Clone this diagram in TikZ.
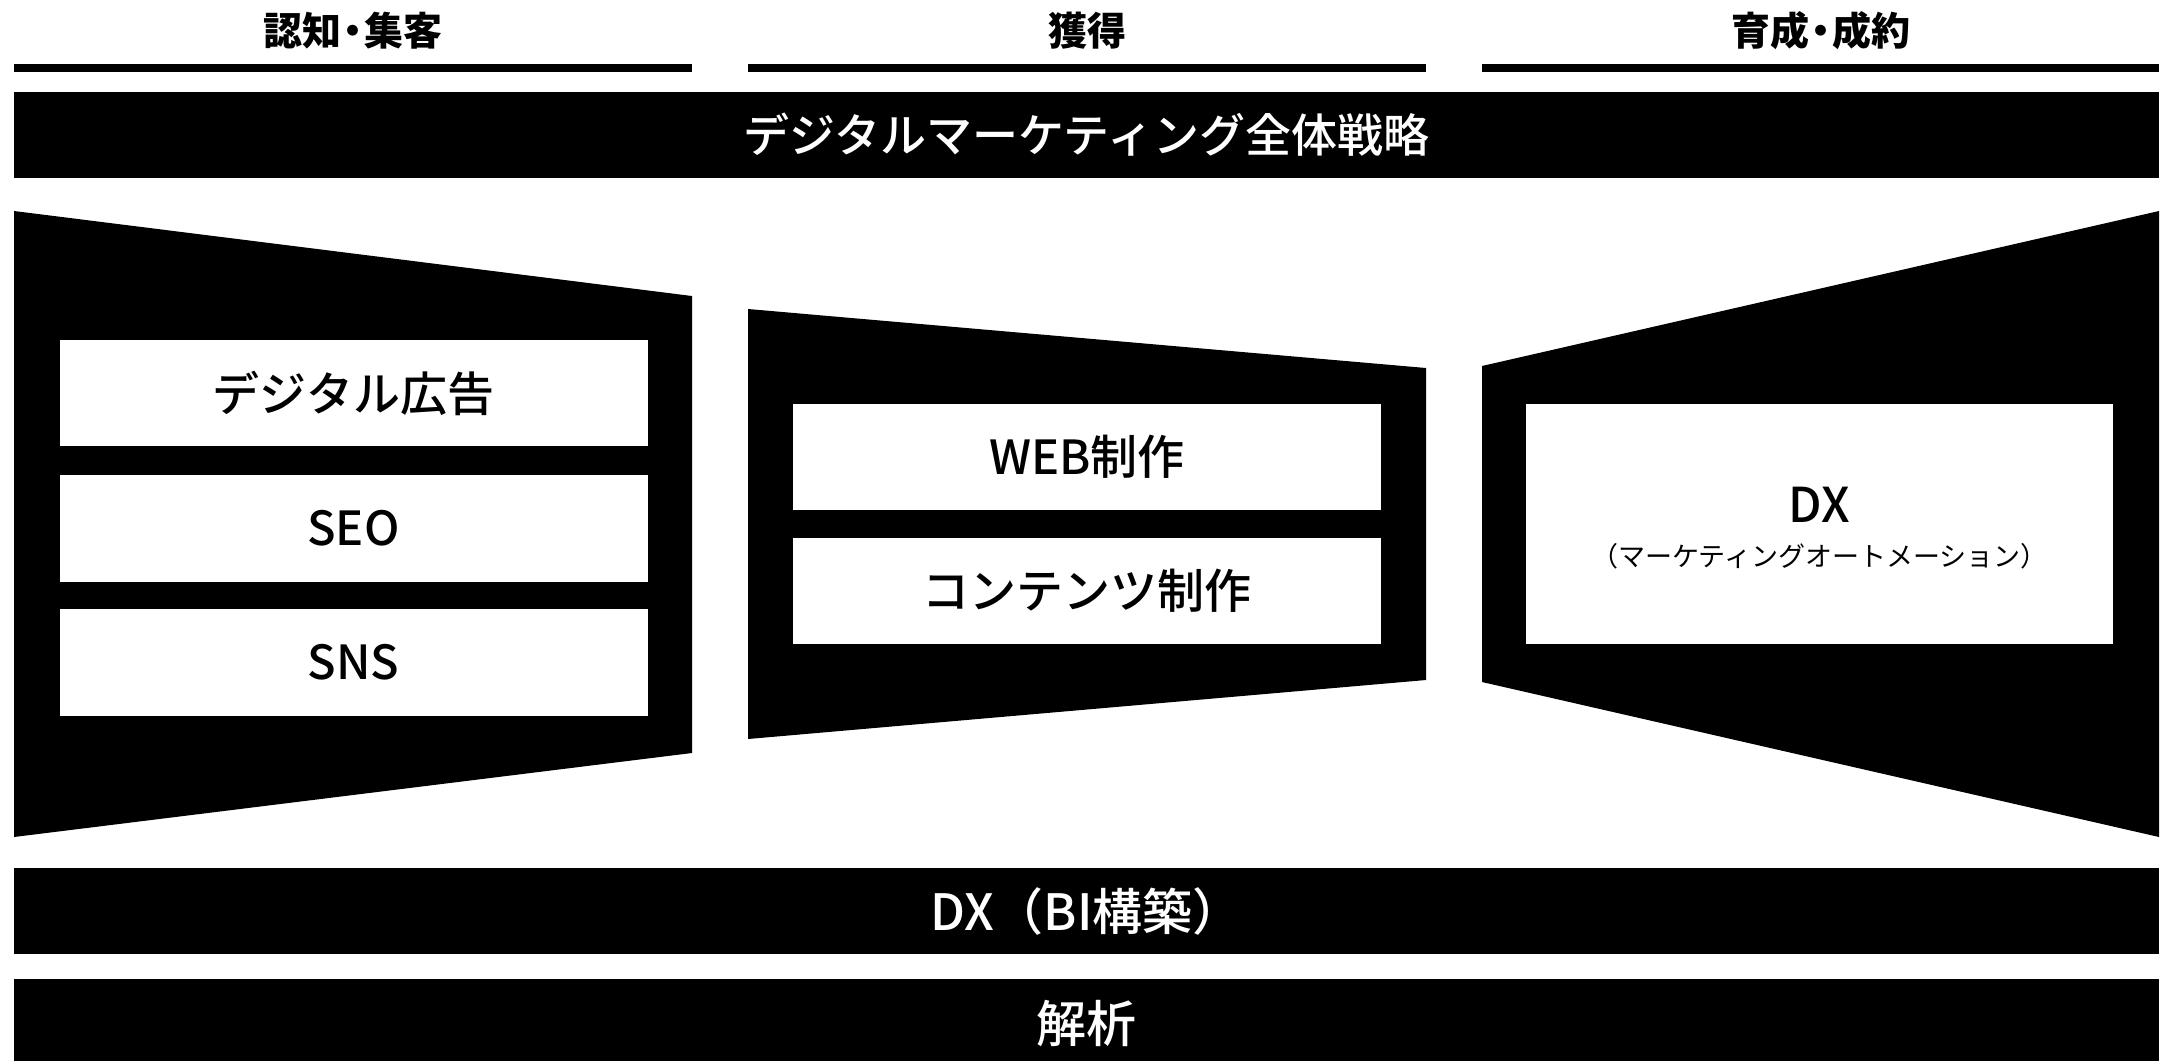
\documentclass[tikz,border=0pt]{standalone}
\usepackage{fontspec}
\newfontfamily\jp{Noto Sans CJK JP}
\IfFontExistsTF{Noto Sans CJK JP Medium}
  {\newfontfamily\jpm{Noto Sans CJK JP Medium}}
  {\newfontfamily\jpm{Noto Sans CJK JP}[FakeBold=1.2]}
\begin{document}
\begin{tikzpicture}[x=1pt,y=-1pt,
  hdr/.style={inner sep=0, font=\jp\bfseries\fontsize{39}{44}\selectfont},
  rule/.style={fill=black},
  band/.style={fill=black, draw=none, inner sep=0, minimum width=2145pt, text=white},
  funnel/.style={fill=black},
  cell/.style={fill=white, draw=none, inner sep=0, minimum width=588pt, minimum height=106pt,
    font=\jpm\fontsize{47}{52}\selectfont}]
\useasboundingbox[fill=white] (0,0) rectangle (2163,1061);

% column headers
\node[hdr] (h1) at (353,31) {認知\kern-8pt・\kern-8pt集客};
\node[hdr] (h2) at (1087,31) {獲得};
\node[hdr] (h3) at (1821,31) {育成\kern-8pt・\kern-8pt成約};
\fill[rule] (14,64) rectangle (692,72);
\fill[rule] (748,64) rectangle (1426,72);
\fill[rule] (1482,64) rectangle (2159,72);

% strategy band
\node[band, minimum height=86pt, font=\jpm\fontsize{46}{50}\selectfont] (strategy) at (1086.5,135) {デジタルマーケティング全体戦略};

% funnels
\fill[funnel] (14,211) -- (692,296) -- (692,753) -- (14,837) -- cycle;
\fill[funnel] (748,309) -- (1426,368) -- (1426,680) -- (748,739) -- cycle;
\fill[funnel] (1482,366) -- (2159,211) -- (2159,837) -- (1482,682) -- cycle;

% left column boxes
\node[cell] (ad) at (353.5,393) {デジタル広告};
\node[cell, minimum height=107pt] (seo) at (353.5,528.5) {SEO};
\node[cell, minimum height=107pt] (sns) at (353.5,662.5) {SNS};

% middle column boxes
\node[cell] (web) at (1087,457) {WEB制作};
\node[cell] (cont) at (1087,591) {コンテンツ制作};

% right column box
\node[fill=white, minimum width=587pt, minimum height=240pt, inner sep=0] (ma) at (1819.5,524) {};
\node[inner sep=0, font=\jpm\fontsize{48}{52}\selectfont] (dx) at (1819.5,505) {DX};
\node[inner sep=0, font=\jp\fontsize{27}{30}\selectfont] (mat) at (1819.5,556) {（マーケティングオートメーション）};

% bottom bands
\node[band, minimum height=86pt, font=\jpm\fontsize{50}{54}\selectfont] (bi) at (1086.5,911) {DX（BI構築）};
\fill[black] (14,979) rectangle (2159,1061);
\node[inner sep=0, text=white, font=\jpm\fontsize{50}{54}\selectfont] (ana) at (1086.5,1024) {解析};
\end{tikzpicture}
\end{document}
